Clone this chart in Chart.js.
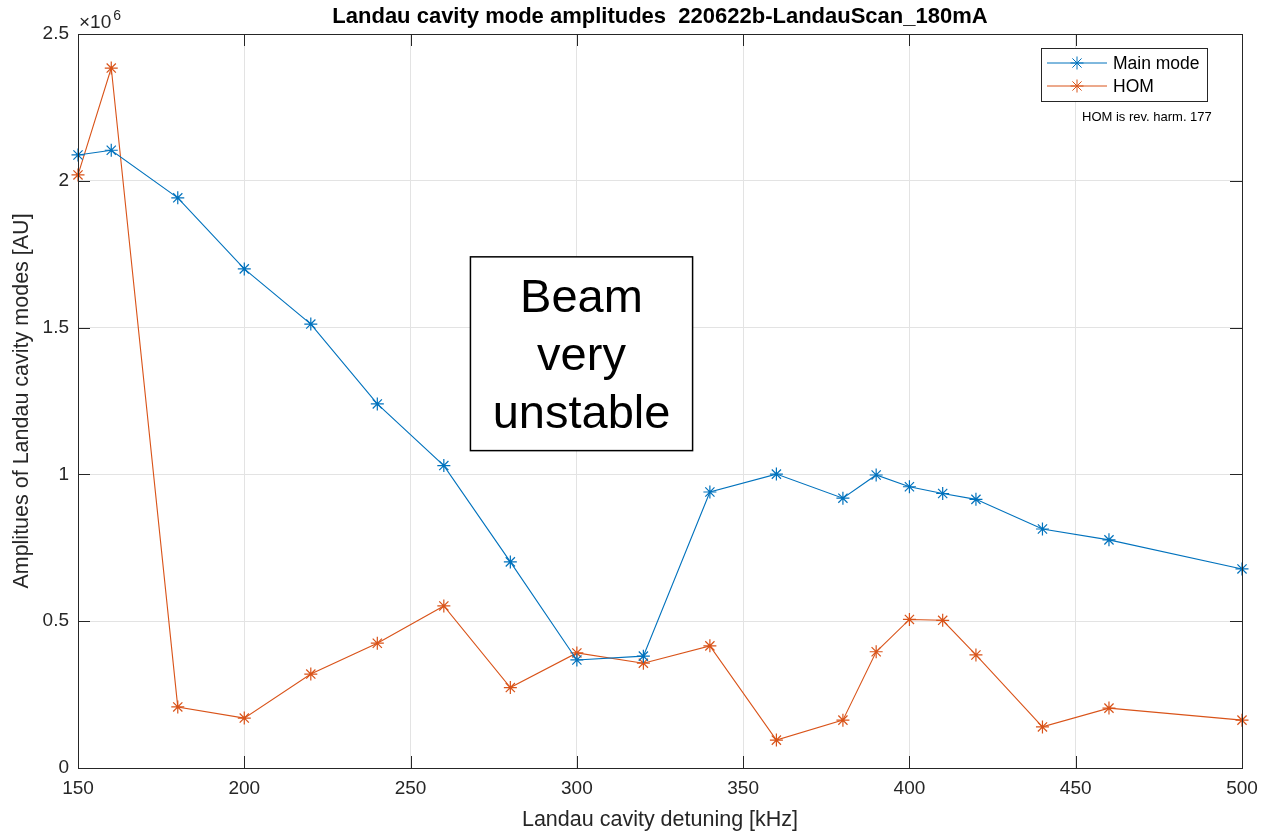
<!DOCTYPE html>
<html>
<head>
<meta charset="utf-8">
<title>Landau cavity mode amplitudes</title>
<script src="https://cdn.jsdelivr.net/npm/chart.js@4.4.1/dist/chart.umd.min.js"></script>
<style>
  html, body { margin: 0; padding: 0; background: #fff; }
  #wrap { width: 1261px; height: 833px; }
</style>
</head>
<body>
<div id="wrap"><canvas id="modeChart" width="1261" height="833"></canvas></div>
<script>
// Landau cavity detuning [kHz]
const detuning = [150, 160, 180, 200, 220, 240, 260, 280, 300, 320, 340, 360, 380, 390, 400, 410, 420, 440, 460, 500];

// Mode amplitudes [AU]
const mainMode = [2.088e6, 2.104e6, 1.942e6, 1.700e6, 1.512e6, 1.240e6, 1.030e6, 0.702e6, 0.368e6, 0.381e6,
                  0.940e6, 1.001e6, 0.919e6, 0.998e6, 0.958e6, 0.935e6, 0.915e6, 0.814e6, 0.777e6, 0.678e6];
const homMode  = [2.020e6, 2.384e6, 0.208e6, 0.170e6, 0.320e6, 0.425e6, 0.552e6, 0.274e6, 0.392e6, 0.357e6,
                  0.416e6, 0.095e6, 0.163e6, 0.396e6, 0.506e6, 0.503e6, 0.385e6, 0.140e6, 0.204e6, 0.163e6];

const seriesNames = ['Main mode', 'HOM'];
const seriesColors = ['#0072BD', '#D95319'];
const noteLines = ['Beam', 'very', 'unstable'];
const legendNote = 'HOM is rev. harm. 177';

const FONT = '"Liberation Sans", Arial, Helvetica, sans-serif';
const AXIS_COLOR = '#262626';
const MARKER_R = 6.5;

function points(ys) {
    return detuning.map((x, i) => ({ x: x, y: ys[i] }));
}

// box outline, inward ticks, exponent, text box and legend
const decorations = {
    id: 'decorations',
    afterDraw(chart) {
        const c = chart.ctx;
        const a = chart.chartArea;
        const xs = chart.scales.x;
        const ys = chart.scales.y;
        c.save();

        // axes box
        c.strokeStyle = AXIS_COLOR;
        c.lineWidth = 1;
        c.strokeRect(Math.round(a.left) + 0.5, Math.round(a.top) + 0.5,
                     Math.round(a.right - a.left), Math.round(a.bottom - a.top));

        // inward tick marks
        c.beginPath();
        xs.ticks.forEach(t => {
            const px = Math.round(xs.getPixelForValue(t.value)) + 0.5;
            c.moveTo(px, a.bottom); c.lineTo(px, a.bottom - 12);
            c.moveTo(px, a.top); c.lineTo(px, a.top + 12);
        });
        ys.ticks.forEach(t => {
            const py = Math.round(ys.getPixelForValue(t.value)) + 0.5;
            c.moveTo(a.left, py); c.lineTo(a.left + 12, py);
            c.moveTo(a.right, py); c.lineTo(a.right - 12, py);
        });
        c.stroke();

        // exponent label
        c.fillStyle = AXIS_COLOR;
        c.textBaseline = 'alphabetic';
        c.textAlign = 'left';
        c.font = '19px ' + FONT;
        c.fillText('\u00d710', a.left + 1, a.top - 6);
        const w = c.measureText('\u00d710').width;
        c.font = '14px ' + FONT;
        c.fillText('6', a.left + 3 + w, a.top - 14);

        // "Beam very unstable" text box
        const bx0 = xs.getPixelForValue(268), bx1 = xs.getPixelForValue(334.8);
        const by0 = ys.getPixelForValue(1.741e6), by1 = ys.getPixelForValue(1.081e6);
        c.fillStyle = '#fff';
        c.fillRect(bx0, by0, bx1 - bx0, by1 - by0);
        c.strokeStyle = '#000';
        c.lineWidth = 1.5;
        c.strokeRect(bx0, by0, bx1 - bx0, by1 - by0);
        c.fillStyle = '#000';
        c.textAlign = 'center';
        c.font = '47px ' + FONT;
        noteLines.forEach((s, i) => {
            c.fillText(s, (bx0 + bx1) / 2, by0 + 55 + i * 58);
        });

        // legend
        const lx = 1041, ly = 48, lw = 166, lh = 53;
        c.fillStyle = '#fff';
        c.fillRect(lx, ly, lw, lh);
        c.strokeStyle = '#262626';
        c.lineWidth = 1;
        c.strokeRect(lx + 0.5, ly + 0.5, lw, lh);
        c.textAlign = 'left';
        c.textBaseline = 'middle';
        c.font = '17.5px ' + FONT;
        chart.data.datasets.forEach((ds, i) => {
            const ry = ly + 15 + i * 23;
            c.strokeStyle = ds.borderColor;
            c.lineWidth = 1;
            c.beginPath();
            c.moveTo(lx + 6, ry); c.lineTo(lx + 66, ry);
            c.stroke();
            Chart.helpers.drawPoint(c, { pointStyle: 'star', radius: MARKER_R, borderWidth: 1.2, rotation: 0 }, lx + 36, ry);
            c.fillStyle = '#000';
            c.fillText(ds.label, lx + 72, ry + 1);
        });
        c.font = '13px ' + FONT;
        c.fillText(legendNote, 1082, 117);

        c.restore();
    }
};

const ctx = document.getElementById('modeChart').getContext('2d');
new Chart(ctx, {
    type: 'scatter',
    data: {
        datasets: [mainMode, homMode].map((ys, i) => ({
            label: seriesNames[i],
            data: points(ys),
            showLine: true,
            clip: false,
            borderColor: seriesColors[i],
            backgroundColor: seriesColors[i],
            borderWidth: 1.1,
            pointStyle: 'star',
            pointRadius: MARKER_R,
            pointBorderWidth: 1.2,
            pointHoverRadius: MARKER_R
        }))
    },
    options: {
        responsive: false,
        animation: false,
        layout: { padding: { left: 0, right: 19, top: 0, bottom: 0 } },
        scales: {
            x: {
                type: 'linear',
                min: 150,
                max: 500,
                afterFit: s => { s.height = 65; s.paddingLeft = 0; s.paddingRight = 0; },
                ticks: {
                    stepSize: 50,
                    color: AXIS_COLOR,
                    padding: 9,
                    font: { family: FONT, size: 19 }
                },
                grid: { color: '#e3e3e3', drawTicks: false },
                border: { display: false },
                title: {
                    display: true,
                    text: 'Landau cavity detuning [kHz]',
                    color: AXIS_COLOR,
                    padding: { top: 0, bottom: 0 },
                    font: { family: FONT, size: 21.5 }
                }
            },
            y: {
                min: 0,
                max: 2.5e6,
                afterFit: s => { s.width = 78; s.paddingTop = 0; s.paddingBottom = 0; },
                ticks: {
                    stepSize: 0.5e6,
                    color: AXIS_COLOR,
                    padding: 9,
                    font: { family: FONT, size: 19 },
                    callback: v => String(v / 1e6)
                },
                grid: { color: '#e3e3e3', drawTicks: false },
                border: { display: false },
                title: {
                    display: true,
                    text: 'Amplitues of Landau cavity modes [AU]',
                    color: AXIS_COLOR,
                    padding: { top: 9, bottom: 0 },
                    font: { family: FONT, size: 21.5 }
                }
            }
        },
        plugins: {
            legend: { display: false },
            tooltip: { enabled: false },
            title: {
                display: true,
                fullSize: false,
                text: 'Landau cavity mode amplitudes  220622b-LandauScan_180mA',
                color: '#000',
                padding: { top: 4, bottom: 3.6 },
                font: { family: FONT, size: 22, weight: 'bold' }
            }
        }
    },
    plugins: [decorations]
});
</script>
</body>
</html>
